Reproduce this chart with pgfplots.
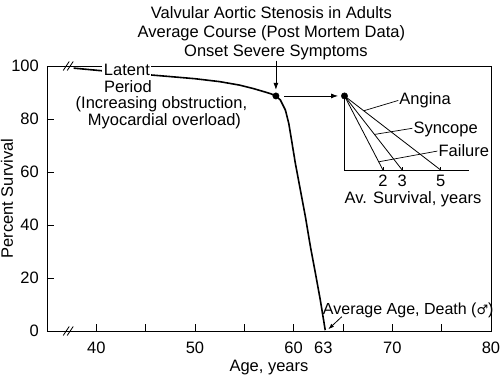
\documentclass[border=0pt]{standalone}
\usepackage{pgfplots}
\pgfplotsset{compat=1.18}
\usepackage{fontspec}
\setmainfont{Liberation Sans}
\newfontfamily\symfont{DejaVu Sans}
\usetikzlibrary{arrows.meta}
\begin{document}
\fontsize{16.5bp}{19.5bp}\selectfont
\begin{tikzpicture}
\useasboundingbox (-47bp,-47bp) rectangle (453bp,331bp);
\begin{axis}[
 at={(0,0)}, anchor=south west,
 scale only axis, width=444bp, height=265bp,
 xmin=35, xmax=80, ymin=0, ymax=100,
 axis line style={line width=0.9bp},
 tick align=inside, tick pos=left,
 major tick length=7bp,
 every tick/.style={black, line width=0.8bp},
 xtick={40,45,...,75}, xticklabels={40,,50,,60,,70,},
 extra x ticks={63,80}, extra x tick labels={63,80},
 extra x tick style={major tick length=0pt},
 ytick={0,20,...,100},
 /pgf/number format/assume math mode=true,
 xticklabel style={yshift=-5bp},
 yticklabel style={xshift=-2.5bp},
 xlabel={Age, years}, ylabel={Percent Survival},
 xlabel style={at={(axis description cs:0.5,-0.136)}, anchor=center},
 ylabel style={at={(axis description cs:-0.09,0.5)}, anchor=center},
 clip=false,
]
% main survival curve
\addplot[black, line width=1.6bp, line join=round] coordinates {
 (37.7,99.2) (42,97.7) (45.9,96.5) (47.5,96.0) (50,95.2) (52.5,94.1)
 (54.5,92.8) (55.9,91.5) (57,90.3) (57.7,89.5) (58.2,88.7) (58.65,87.2)
 (59.16,83.4) (59.5,78.4) (59.84,70.8) (60.17,63.3) (60.68,53.2)
 (61.19,43.1) (61.7,31.8) (62.2,21.9) (62.7,11.7) (63.2,0.3)
};
% inset axes
\addplot[black, line width=0.9bp] coordinates {(65.15,88.7) (65.15,60.75) (77.75,60.75)};
% inset survival lines (2, 3, 5 years)
\addplot[black, line width=0.8bp] coordinates {(65.15,88.7) (69.05,60.75)};
\addplot[black, line width=0.8bp] coordinates {(65.15,88.7) (71.0,60.75)};
\addplot[black, line width=0.8bp] coordinates {(65.15,88.7) (74.9,60.75)};
% dots
\addplot[black, only marks, mark=*, mark size=3.2bp] coordinates {(58.2,88.7) (65.15,88.7)};

\draw[line width=0.7bp] (axis cs:69.05,60.75) -- ([yshift=3bp]axis cs:69.05,60.75);
\draw[line width=0.7bp] (axis cs:71.0,60.75) -- ([yshift=3bp]axis cs:71.0,60.75);
\draw[line width=0.7bp] (axis cs:74.9,60.75) -- ([yshift=3bp]axis cs:74.9,60.75);
\node[anchor=center] at (axis cs:69.05,56.6) {2};
\node[anchor=center] at (axis cs:71.0,56.6) {3};
\node[anchor=center] at (axis cs:74.9,56.6) {5};
\node[anchor=center] at (axis cs:72.1,49.7) {Av. Survival, years};

% leaders
\draw[line width=0.7bp] (axis cs:67.1,83.1) -- (axis cs:70.6,87.0);
\draw[line width=0.7bp] (axis cs:68.19,74.17) -- (axis cs:72.03,76.5);
\draw[line width=0.7bp] (axis cs:68.62,63.85) -- (axis cs:74.57,67.9);
\node[anchor=west, inner sep=1bp] at (axis cs:70.6,86.9) {Angina};
\node[anchor=west, inner sep=1bp] at (axis cs:72.03,76.0) {Syncope};
\node[anchor=west, inner sep=1bp] at (axis cs:74.57,68.1) {Failure};

% arrows
\draw[line width=0.8bp, -{Latex[length=7bp,width=5bp]}] (axis cs:58.2,102.0) -- (axis cs:58.2,91.0);
\draw[line width=0.8bp, -{Latex[length=7bp,width=5bp]}] (axis cs:59.05,88.7) -- (axis cs:64.5,88.7);
\draw[line width=0.8bp, -{Latex[length=6bp,width=4bp]}] (axis cs:64.88,5.4) -- (axis cs:63.5,0.6);

\node[anchor=west, inner sep=0.5bp] at (axis cs:62.9,7.6) {\fontsize{16bp}{19bp}\selectfont Average Age, Death ({\symfont\fontsize{13bp}{16bp}\selectfont ♂})};

% titles
\node[anchor=base] at (axis cs:57.74,117.9) {Valvular Aortic Stenosis in Adults};
\node[anchor=base] at (axis cs:57.74,110.6) {Average Course (Post Mortem Data)};
\node[anchor=base] at (axis cs:58.2,103.4) {Onset Severe Symptoms};

\coordinate (lat) at (axis cs:43.1,96.6);
\coordinate (per) at (axis cs:43.2,90.1);
\coordinate (inc) at (axis cs:46.6,84.0);
\coordinate (myo) at (axis cs:46.9,77.4);
\coordinate (bb) at (axis cs:37.15,0);
\coordinate (bt) at (axis cs:37.15,100);
\end{axis}
\node[anchor=base, fill=white, inner sep=1.5bp] at (lat) {Latent};
\node[anchor=base, fill=white, inner sep=1.5bp] at (per) {Period};
\node[anchor=base] at (inc) {(Increasing obstruction,};
\node[anchor=base] at (myo) {Myocardial overload)};
% axis break marks
\foreach \c in {bb,bt}{
 \draw[line width=0.8bp] ([xshift=-5bp,yshift=-4.5bp]\c) -- ([xshift=1bp,yshift=4.5bp]\c);
 \draw[line width=0.8bp] ([xshift=-1bp,yshift=-4.5bp]\c) -- ([xshift=5bp,yshift=4.5bp]\c);
}
\end{tikzpicture}
\end{document}
